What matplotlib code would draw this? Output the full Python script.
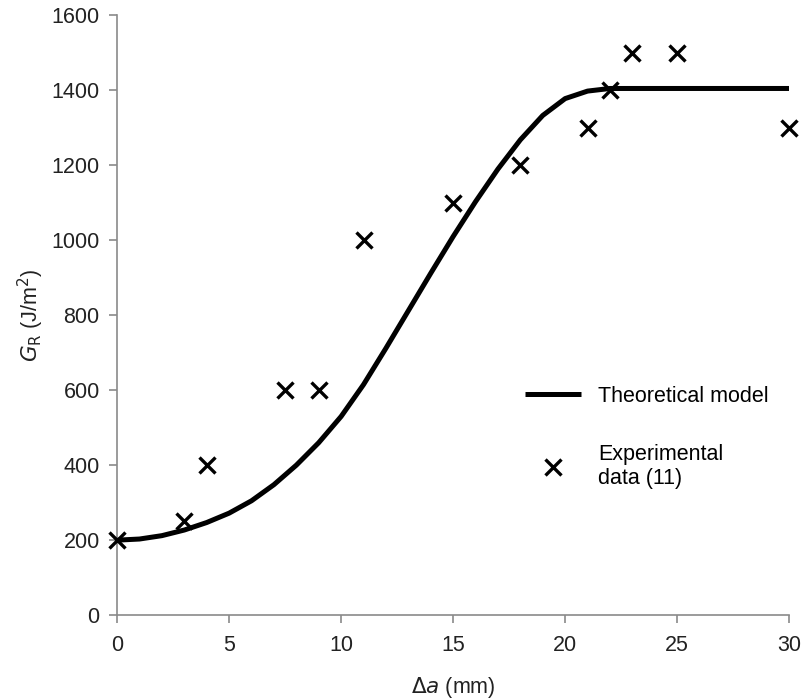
import matplotlib.pyplot as plt

plt.rcParams['font.family'] = ['Liberation Sans', 'DejaVu Sans']

# theoretical model curve
model_x = [0, 1, 2, 3, 4, 5, 6, 7, 8, 9, 10, 11, 12, 13, 14, 15, 16, 17, 18, 19, 20, 21, 22, 30]
model_y = [200, 203, 212, 227, 247, 272, 305, 348, 400, 460, 530, 615, 712, 812, 912, 1010,
           1103, 1190, 1268, 1333, 1378, 1398, 1405, 1405]

# experimental data (11)
exp_x = [0, 3, 4, 7.5, 9, 11, 15, 18, 21, 22, 23, 25, 30]
exp_y = [200, 250, 400, 600, 600, 1000, 1100, 1200, 1300, 1400, 1500, 1500, 1300]

xticks = [0, 5, 10, 15, 20, 25, 30]
yticks = [0, 200, 400, 600, 800, 1000, 1200, 1400, 1600]

fig = plt.figure(figsize=(8.02, 6.99), dpi=100)
ax = fig.add_axes([0.146, 0.12, 0.838, 0.858])

ax.plot(model_x, model_y, color='black', lw=3.6, solid_capstyle='butt',
        solid_joinstyle='round', label='Theoretical model', zorder=2)
ax.plot(exp_x, exp_y, ls='none', marker='x', ms=11, mew=2.4, color='black',
        label='Experimental\ndata (11)', clip_on=False, zorder=3)

ax.set_xlim(0, 30)
ax.set_ylim(0, 1600)
ax.set_xticks(xticks)
ax.set_yticks(yticks)

for s in ['top', 'right']:
    ax.spines[s].set_visible(False)
for s in ['left', 'bottom']:
    ax.spines[s].set_color('#8a8a8a')
    ax.spines[s].set_linewidth(1.2)
ax.tick_params(colors='#8a8a8a', width=1.2, length=6, labelsize=15.5, labelcolor='#222222')
ax.tick_params(axis='y', pad=6.5)
ax.tick_params(axis='x', pad=8)

ax.set_xlabel(r'$\Delta a$ (mm)', fontsize=15.5, color='#222222', labelpad=14)
ax.set_ylabel(r'$G_\mathrm{R}$ (J/m$^2$)', fontsize=15.5, color='#222222', labelpad=4)

leg = ax.legend(frameon=False, fontsize=15.5, loc='upper left', bbox_to_anchor=(0.578, 0.415),
                handlelength=2.6, labelspacing=1.75, handletextpad=0.8)

plt.savefig('out.png', dpi=100)
